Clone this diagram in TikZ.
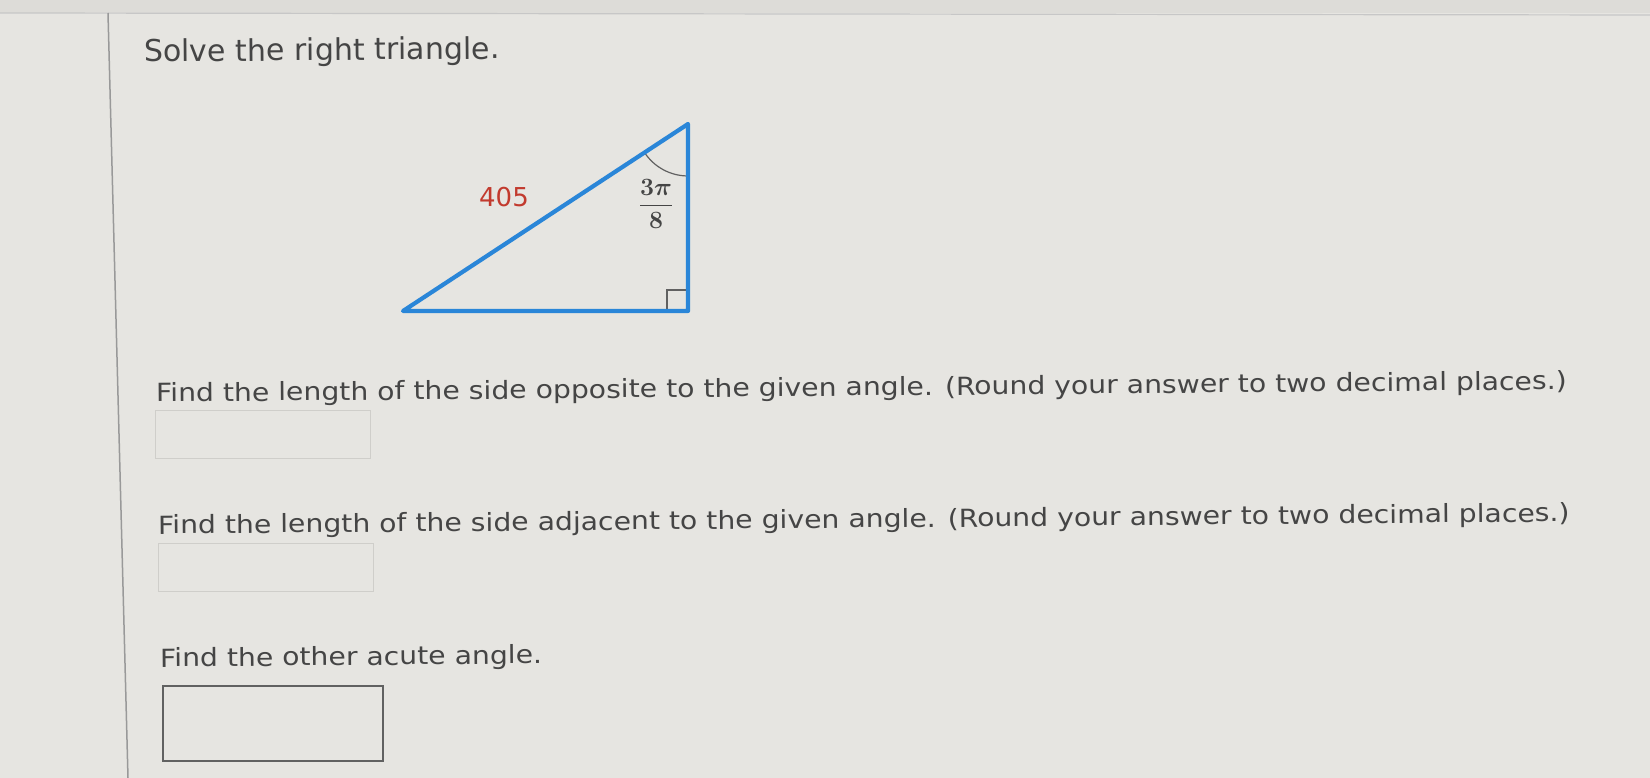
\documentclass[tikz,border=0pt]{standalone}
\usepackage{amsmath}
\usepackage[no-math]{fontspec}
\setmainfont{DejaVu Sans}
\newfontfamily\widesans[FakeStretch=1.13]{DejaVu Sans}
\usepackage{tikz}
\usetikzlibrary{positioning,calc}
\definecolor{screengrey}{HTML}{E6E5E1}
\definecolor{bandgrey}{HTML}{DDDCD8}
\definecolor{inkgrey}{HTML}{454545}
\definecolor{sideblue}{HTML}{2A86D8}
\definecolor{sidered}{HTML}{C23A2E}
\definecolor{faintgrey}{HTML}{CFCECA}
\tikzstyle{leg}=[line width=4.2pt,draw=sideblue,line join=round]
\tikzstyle{mark line}=[line width=1.2pt,draw=inkgrey!85]
\tikzstyle{prompt}=[anchor=base west,inner sep=0pt,text=inkgrey,rotate=0.5,font=\widesans\fontsize{25}{30}\selectfont]
\tikzstyle{entry box}=[anchor=north west,inner sep=0pt,minimum width=215pt,minimum height=48pt,draw=faintgrey,line width=1pt]
\newcommand{\promptline}[3][]{
  \node [prompt, #1] (#2) {#3}
}
\newcommand{\entrybox}[2][]{
  \node [entry box, #1] (#2) {}
}

\begin{document}
\begin{tikzpicture}[x=1pt,y=-1pt]
        \fill[screengrey] (0,0) rectangle (1650,778);
        \fill[bandgrey] (0,0) rectangle (1650,13);
        \useasboundingbox (0,0) rectangle (1650,778);
        \coordinate (band l) at (0,13);
        \coordinate (band r) at (1650,15);
        \coordinate (rule t) at (108,13);
        \coordinate (rule b) at (128,778);
        \draw[line width=1.2pt,black!22] (band l) -- (band r);
        \draw[line width=1.5pt,black!40] (rule t) -- (rule b);

        \node [prompt,rotate=0,font=\fontsize{30}{36}\selectfont] (title) at (144,62) {Solve the right triangle.};

        % triangle
        \coordinate (A) at (403,311);
        \coordinate (B) at (688,311);
        \coordinate (C) at (688,124);
        \draw[mark line] ([xshift=-21pt]B) -- ([xshift=-21pt,yshift=21pt]B) -- ([yshift=21pt]B);
        \draw[mark line] ($(C)!52pt!(A)$) arc[start angle=146.7,end angle=90,radius=52];
        \draw[leg] (A) -- (B) -- (C) -- cycle;
        \node [text=sidered,font=\fontsize{26}{30}\selectfont] (hyp) at (504,197) {405};
        \node [text=inkgrey,font=\fontsize{27}{32}\selectfont] (angle) at (656,204) {$\dfrac{\boldsymbol{3\pi}}{\mathbf{8}}$};

        \promptline[at={(156,402)}]{q1}{Find the length of the side opposite to the given angle. (Round your answer to two decimal places.)};
        \entrybox[at={(155,410)}]{box1};
        \promptline[at={(158,534)}]{q2}{Find the length of the side adjacent to the given angle. (Round your answer to two decimal places.)};
        \entrybox[at={(158,543)}]{box2};
        \promptline[at={(160,667)}]{q3}{Find the other acute angle.};
        \entrybox[at={(162,685)},minimum width=220pt,minimum height=75pt,draw=inkgrey!85,line width=1.5pt]{box3};
\end{tikzpicture}
\end{document}
